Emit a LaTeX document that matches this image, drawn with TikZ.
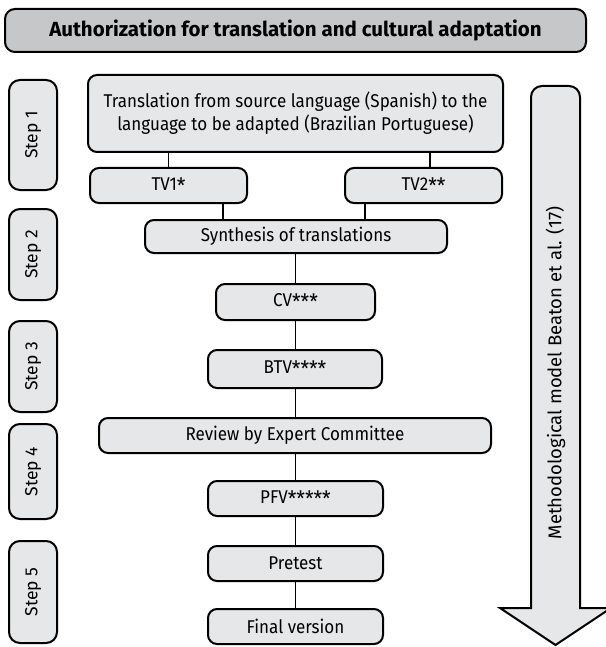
\documentclass[tikz,border=0pt]{standalone}
\usepackage{fontspec}
\setmainfont{Fira Sans}[FakeStretch=0.92]
\newfontfamily\widefont{Fira Sans}
\definecolor{boxfill}{HTML}{E6E7E8}
\definecolor{titlefill}{HTML}{C6C7C8}
\newcommand\lowstar{\raisebox{-3pt}{\scalebox{1.15}{*}}}
\begin{document}
\begin{tikzpicture}[x=1pt,y=-1pt,
  box/.style={draw=black,line width=2pt,fill=boxfill,rounded corners=9pt,inner sep=0pt,
    font=\fontsize{18.5}{23}\selectfont,align=center},
  stepbox/.style={box,rounded corners=11pt,rotate=90,font=\widefont\fontsize{17.5}{21}\selectfont},
  link/.style={line width=1.9pt}]
\useasboundingbox (0,0) rectangle (605,647);
% title
\node[box,fill=titlefill,rounded corners=10pt,minimum width=581,minimum height=43,
  font=\widefont\fontsize{20.5}{24}\selectfont\bfseries] (title) at (295.5,30.5)
  {Authorization for translation and cultural adaptation};
% steps
\node[stepbox,minimum width=110,minimum height=48] (s1) at (33,135) {Step 1};
\node[stepbox,minimum width=91,minimum height=48] (s2) at (33,254.5) {Step 2};
\node[stepbox,minimum width=91,minimum height=48] (s3) at (33,366.5) {Step 3};
\node[stepbox,minimum width=95,minimum height=48] (s4) at (33,471.5) {Step 4};
\node[stepbox,minimum width=102,minimum height=48] (s5) at (33,592) {Step 5};
% flow boxes
\node[box,minimum width=415,minimum height=77] (trans) at (295.5,113.5)
  {Translation from source language (Spanish) to the\\language to be adapted (Brazilian Portuguese)};
\node[box,minimum width=157,minimum height=35] (tv1) at (168.5,185.5) {TV1\lowstar};
\node[box,minimum width=157,minimum height=35] (tv2) at (423.5,185.5) {TV2\lowstar\lowstar};
\node[box,minimum width=302,minimum height=33] (synth) at (296,236.5) {Synthesis of translations};
\node[box,minimum width=159,minimum height=36] (cv) at (295.5,302) {CV\lowstar\lowstar\lowstar};
\node[box,minimum width=174,minimum height=38] (btv) at (295,369) {BTV\lowstar\lowstar\lowstar\lowstar};
\node[box,minimum width=392,minimum height=35] (review) at (295,435.5) {Review by Expert Committee};
\node[box,minimum width=175,minimum height=35] (pfv) at (295.5,498.5) {PFV\lowstar\lowstar\lowstar\lowstar\lowstar};
\node[box,minimum width=175,minimum height=35] (pretest) at (295.5,563.5) {Pretest};
\node[box,minimum width=175,minimum height=35] (final) at (295.5,626.5) {Final version};
% connectors
\draw[link] (tv1.north) -- (tv1.north |- trans.south);
\draw[link] ([xshift=6.5]tv2.north) -- ([xshift=6.5]tv2.north |- trans.south);
\draw[link] ([xshift=54.5]tv1.south) -- ([xshift=54.5]tv1.south |- synth.north);
\draw[link] ([xshift=-58.5]tv2.south) -- ([xshift=-58.5]tv2.south |- synth.north);
\draw[link] (synth.south -| cv.north) -- (cv.north);
\draw[link] (cv.south) -- (cv.south |- btv.north);
\draw[link] (btv.south -| cv.south) -- (review.north -| cv.south);
\draw[link] (review.south -| cv.south) -- (pfv.north);
\draw[link] (pfv.south) -- (pretest.north);
\draw[link] (pretest.south) -- (final.north);
% big arrow
\draw[line width=2pt,fill=boxfill,line join=miter]
  (531,608) -- (531,98) [rounded corners=11pt] -- (531,86) -- (580,86) [sharp corners] -- (580,608)
  -- (611,608) -- (555.5,645) -- (500,608) -- cycle;
\node[rotate=90,font=\widefont\fontsize{18.5}{22}\selectfont,inner sep=0pt] (model) at (555.5,373)
  {Methodological model Beaton et al. (17)};
\end{tikzpicture}
\end{document}
